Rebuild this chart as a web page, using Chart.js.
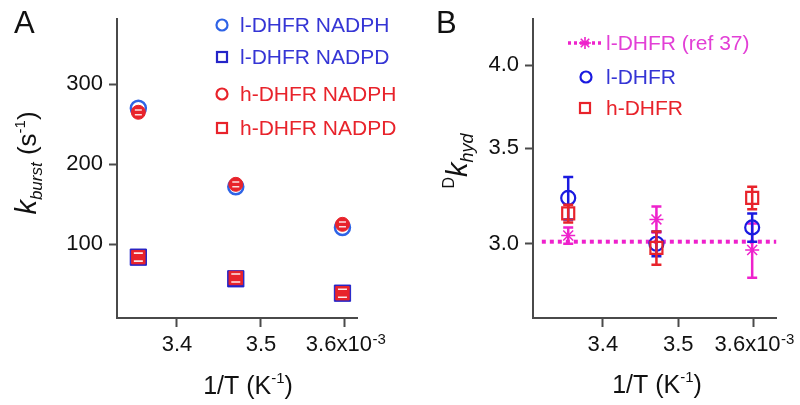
<!DOCTYPE html>
<html>
<head>
<meta charset="utf-8">
<script src="https://cdn.jsdelivr.net/npm/chart.js@4/dist/chart.umd.min.js"></script>
<style>
  html,body{margin:0;padding:0;background:#fff;}
  #wrap{position:relative;width:800px;height:405px;}
  canvas{position:absolute;top:0;}
</style>
</head>
<body>
<div id="wrap">
  <canvas id="cA" width="400" height="405" style="left:0"></canvas>
  <canvas id="cB" width="400" height="405" style="left:400px"></canvas>
</div>
<script>
// ---------- Panel A data (x in units of 10^-3 K^-1) ----------
const invT      = [3.354, 3.470, 3.597];
const lNADPH    = [270, 172, 121];
const hNADPH    = [265, 175, 125];
const lNADPD    = [84, 57, 39];
const hNADPD    = [84, 58, 39];
const hNADPHErr = [3, 3, 3];
const hNADPDErr = [5, 5, 5];
const labelsA   = ['l-DHFR NADPH', 'l-DHFR NADPD', 'h-DHFR NADPH', 'h-DHFR NADPD'];
const yTicksA   = [100, 200, 300];

// ---------- Panel B data ----------
const invTB     = [3.354, 3.471, 3.598];
const lKIE      = [3.23, 3.00, 3.08];
const lKIEErr   = [0.11, 0.06, 0.07];
const hKIE      = [3.15, 2.98, 3.23];
const hKIEErr   = [0.045, 0.08, 0.058];
const refKIE    = [3.04, 3.12, 2.97];
const refKIEErr = [0.04, 0.065, 0.13];
const refFitX   = [3.319, 3.630];
const refFitY   = [3.01, 3.01];
const labelsB   = ['l-DHFR (ref 37)', 'l-DHFR', 'h-DHFR'];
const yTicksB   = [3.0, 3.5, 4.0];

const xTicks      = [3.4, 3.5, 3.6];
const xTickLabels = ['3.4', '3.5', '3.6x10'];
const xTickExp    = ['', '', '-3'];

// ---------- styling ----------
const FONT = '"Liberation Sans", Arial, Helvetica, sans-serif';
const AXIS = '#4a4a4a';
const BLUE_A = '#2e63e6', BLUE_SQ = '#2424c8', BLUE_TXT = '#3535d5';
const BLUE = '#1a1ae0', RED = '#e8232b', MAG = '#ee22cc', MAG_TXT = '#e23fd6';
const pts = (xs, ys) => xs.map((x, i) => ({x, y: ys[i]}));
const PAD2 = '  ';

function richText(ctx, parts, x, y, rotate, color) {
  ctx.save();
  ctx.translate(x, y);
  if (rotate) ctx.rotate(-Math.PI / 2);
  ctx.textBaseline = 'alphabetic';
  ctx.fillStyle = color || '#111';
  const fontOf = p => (p.italic ? 'italic ' : '') + p.size + 'px ' + FONT;
  let total = 0;
  parts.forEach(p => { ctx.font = fontOf(p); p.w = ctx.measureText(p.t).width; total += p.w; });
  let cx = -total / 2;
  parts.forEach(p => { ctx.font = fontOf(p); ctx.fillText(p.t, cx, p.dy || 0); cx += p.w; });
  ctx.restore();
}

const errorBars = {
  id: 'errorBars',
  afterDatasetDraw(chart, args) {
    const ds = chart.data.datasets[args.index];
    if (!ds.errors) return;
    const ctx = chart.ctx, ys = chart.scales.y;
    ctx.save();
    ctx.strokeStyle = ds.errorColor;
    ctx.lineWidth = ds.errorWidth;
    args.meta.data.forEach((pt, i) => {
      const v = ds.data[i].y, e = ds.errors[i];
      const yt = ys.getPixelForValue(v + e), yb = ys.getPixelForValue(v - e);
      const x = pt.x, c = ds.capHalf;
      ctx.beginPath();
      if (!ds.capsOnly) { ctx.moveTo(x, yt); ctx.lineTo(x, yb); }
      ctx.moveTo(x - c, yt); ctx.lineTo(x + c, yt);
      ctx.moveTo(x - c, yb); ctx.lineTo(x + c, yb);
      ctx.stroke();
    });
    ctx.restore();
  }
};

// superscript exponent on the x tick labels
const tickExp = {
  id: 'tickExp',
  afterDraw(chart) {
    const xs = chart.scales.x, ctx = chart.ctx;
    const items = xs._labelItems || [];
    ctx.save();
    ctx.fillStyle = '#111';
    xs.ticks.forEach((t, i) => {
      const exp = xTickExp[i];
      if (!exp) return;
      ctx.font = '22px ' + FONT;
      const full = ctx.measureText(xTickLabels[i] + PAD2).width;
      const pad = ctx.measureText(PAD2).width;
      const px = xs.getPixelForValue(t.value);
      let topY = xs.top + 9 + 5;
      let base = 'top';
      const it = items[i];
      if (it && it.options && it.options.translation) {
        topY = it.options.translation[1] + (it.textOffset || 0);
        base = it.options.textBaseline || 'top';
      }
      ctx.font = '15px ' + FONT;
      ctx.textBaseline = base;
      ctx.textAlign = 'left';
      ctx.fillText(exp, px + full / 2 - pad + 0.5, topY - 5);
    });
    ctx.restore();
  }
};

function circleMark(ctx, x, y, r, color, lw) {
  ctx.save(); ctx.strokeStyle = color; ctx.lineWidth = lw;
  ctx.beginPath(); ctx.arc(x, y, r, 0, Math.PI * 2); ctx.stroke(); ctx.restore();
}
function squareMark(ctx, x, y, h, color, lw) {
  ctx.save(); ctx.strokeStyle = color; ctx.lineWidth = lw;
  ctx.strokeRect(x - h, y - h, 2 * h, 2 * h); ctx.restore();
}
function starMark(ctx, x, y, r, color, lw) {
  ctx.save(); ctx.strokeStyle = color; ctx.lineWidth = lw; ctx.beginPath();
  for (let k = 0; k < 4; k++) {
    const a = k * Math.PI / 4;
    ctx.moveTo(x - r * Math.cos(a), y - r * Math.sin(a));
    ctx.lineTo(x + r * Math.cos(a), y + r * Math.sin(a));
  }
  ctx.stroke(); ctx.restore();
}

function commonX(min, max) {
  return {
    type: 'linear', min, max,
    afterBuildTicks: s => { s.ticks = xTicks.map(v => ({value: v})); },
    afterFit: s => { s.height = 87; },
    border: {display: true, color: AXIS, width: 2},
    grid: {display: true, drawOnChartArea: false, drawTicks: true, tickLength: 9, tickWidth: 2, tickColor: AXIS},
    ticks: {
      autoSkip: false, maxRotation: 0, minRotation: 0, padding: 5, color: '#111',
      font: {family: FONT, size: 22},
      callback: (v, i) => xTickLabels[i] + (xTickExp[i] ? PAD2 : '')
    }
  };
}

// ---------------- Chart A ----------------
const decorA = {
  id: 'decorA',
  afterDraw(chart) {
    const ctx = chart.ctx;
    ctx.save();
    ctx.fillStyle = '#111'; ctx.font = '31px ' + FONT; ctx.textBaseline = 'alphabetic';
    ctx.fillText('A', 14, 33);
    ctx.restore();
    richText(ctx, [
      {t: 'k', size: 29, italic: true},
      {t: 'burst', size: 17, italic: true, dy: 6},
      {t: ' (s', size: 26},
      {t: '-1', size: 15, dy: -11},
      {t: ')', size: 26}
    ], 36, 163, true);
    richText(ctx, [
      {t: '1/T (K', size: 25},
      {t: '-1', size: 15, dy: -11},
      {t: ')', size: 25}
    ], 248, 394, false);
    // legend
    const ly = [25, 57, 94, 128];
    const cols = [BLUE_TXT, BLUE_TXT, RED, RED];
    circleMark(ctx, 222, ly[0], 5.5, BLUE_A, 2.2);
    squareMark(ctx, 222, ly[1], 5, BLUE_SQ, 2.2);
    circleMark(ctx, 222, ly[2], 5.5, RED, 2.2);
    squareMark(ctx, 222, ly[3], 5, RED, 2.2);
    ctx.save();
    ctx.font = '21px ' + FONT; ctx.textBaseline = 'middle';
    labelsA.forEach((t, i) => { ctx.fillStyle = cols[i]; ctx.fillText(t, 240, ly[i] + 1); });
    ctx.restore();
  }
};

new Chart(document.getElementById('cA'), {
  type: 'scatter',
  data: {
    datasets: [
      {label: labelsA[0], data: pts(invT, lNADPH), order: 2, pointStyle: 'circle', pointRadius: 7.5,
       borderColor: BLUE_A, backgroundColor: 'rgba(0,0,0,0)', borderWidth: 2.5},
      {label: labelsA[1], data: pts(invT, lNADPD), order: 2, pointStyle: 'rect', pointRadius: 11.5,
       borderColor: BLUE_SQ, backgroundColor: BLUE_SQ, borderWidth: 1},
      {label: labelsA[2], data: pts(invT, hNADPH), order: 1, pointStyle: 'circle', pointRadius: 7,
       borderColor: RED, backgroundColor: RED, borderWidth: 1,
       errors: hNADPHErr, errorColor: 'rgba(255,255,255,0.85)', errorWidth: 1.5, capHalf: 3.5, capsOnly: true},
      {label: labelsA[3], data: pts(invT, hNADPD), order: 1, pointStyle: 'rect', pointRadius: 9.5,
       borderColor: RED, backgroundColor: RED, borderWidth: 1,
       errors: hNADPDErr, errorColor: 'rgba(255,255,255,0.9)', errorWidth: 1.6, capHalf: 4.5, capsOnly: true}
    ]
  },
  options: {
    responsive: false, animation: false, devicePixelRatio: 1,
    layout: {padding: {left: 0, right: 43, top: 15, bottom: 0}},
    plugins: {legend: {display: false}, tooltip: {enabled: false}},
    scales: {
      x: commonX(3.3286, 3.6143),
      y: {
        type: 'linear', min: 8, max: 381.3,
        afterBuildTicks: s => { s.ticks = yTicksA.map(v => ({value: v})); },
        afterFit: s => { s.width = 117; },
        border: {display: true, color: AXIS, width: 2},
        grid: {display: true, drawOnChartArea: false, drawTicks: true, tickLength: 8, tickWidth: 2, tickColor: AXIS},
        ticks: {padding: 6, color: '#111', font: {family: FONT, size: 22}, callback: v => String(v)}
      }
    }
  },
  plugins: [errorBars, tickExp, decorA]
});

// ---------------- Chart B ----------------
const decorB = {
  id: 'decorB',
  afterDraw(chart) {
    const ctx = chart.ctx;
    ctx.save();
    ctx.fillStyle = '#111'; ctx.font = '31px ' + FONT; ctx.textBaseline = 'alphabetic';
    ctx.fillText('B', 36, 33);
    ctx.restore();
    richText(ctx, [
      {t: 'D', size: 16, dy: -13},
      {t: 'k', size: 29, italic: true},
      {t: 'hyd', size: 18, italic: true, dy: 6}
    ], 67, 161, true);
    richText(ctx, [
      {t: '1/T (K', size: 25},
      {t: '-1', size: 15, dy: -11},
      {t: ')', size: 25}
    ], 257, 393, false);
    // legend
    const ly = [43, 77, 108];
    ctx.save();
    ctx.strokeStyle = MAG; ctx.lineWidth = 3.5; ctx.setLineDash([3, 3]);
    ctx.beginPath(); ctx.moveTo(168, ly[0]); ctx.lineTo(202, ly[0]); ctx.stroke();
    ctx.restore();
    starMark(ctx, 185, ly[0], 6, MAG, 1.6);
    circleMark(ctx, 186, ly[1], 5.5, BLUE, 2.2);
    squareMark(ctx, 185, ly[2], 5, RED, 2.2);
    ctx.save();
    ctx.font = '21px ' + FONT; ctx.textBaseline = 'middle';
    const cols = [MAG_TXT, BLUE_TXT, RED];
    labelsB.forEach((t, i) => { ctx.fillStyle = cols[i]; ctx.fillText(t, 206, ly[i] + 1); });
    ctx.restore();
  }
};

new Chart(document.getElementById('cB'), {
  type: 'scatter',
  data: {
    datasets: [
      {type: 'line', label: 'ref 37 mean', data: pts(refFitX, refFitY), order: 5,
       borderColor: MAG, borderWidth: 4, borderDash: [4, 4], pointRadius: 0, fill: false},
      {label: labelsB[0], data: pts(invTB, refKIE), order: 3, pointStyle: 'star', pointRadius: 7,
       borderColor: MAG, backgroundColor: MAG, borderWidth: 1.5,
       errors: refKIEErr, errorColor: MAG, errorWidth: 2.5, capHalf: 5},
      {label: labelsB[1], data: pts(invTB, lKIE), order: 2, pointStyle: 'circle', pointRadius: 7,
       borderColor: BLUE, backgroundColor: 'rgba(0,0,0,0)', borderWidth: 2.2,
       errors: lKIEErr, errorColor: BLUE, errorWidth: 2.5, capHalf: 5},
      {label: labelsB[2], data: pts(invTB, hKIE), order: 1, pointStyle: 'rect', pointRadius: 8.5,
       borderColor: RED, backgroundColor: 'rgba(0,0,0,0)', borderWidth: 2.2,
       errors: hKIEErr, errorColor: RED, errorWidth: 2.5, capHalf: 5}
    ]
  },
  options: {
    responsive: false, animation: false, devicePixelRatio: 1,
    layout: {padding: {left: 0, right: 23, top: 13, bottom: 0}},
    plugins: {legend: {display: false}, tooltip: {enabled: false}},
    scales: {
      x: commonX(3.3073, 3.6305),
      y: {
        type: 'logarithmic', min: 2.6618, max: 4.3077,
        afterBuildTicks: s => { s.ticks = yTicksB.map(v => ({value: v})); },
        afterFit: s => { s.width = 133; },
        border: {display: true, color: AXIS, width: 2},
        grid: {display: true, drawOnChartArea: false, drawTicks: true, tickLength: 8, tickWidth: 2, tickColor: AXIS},
        ticks: {padding: 6, color: '#111', font: {family: FONT, size: 22}, callback: v => Number(v).toFixed(1)}
      }
    }
  },
  plugins: [errorBars, tickExp, decorB]
});
</script>
</body>
</html>
